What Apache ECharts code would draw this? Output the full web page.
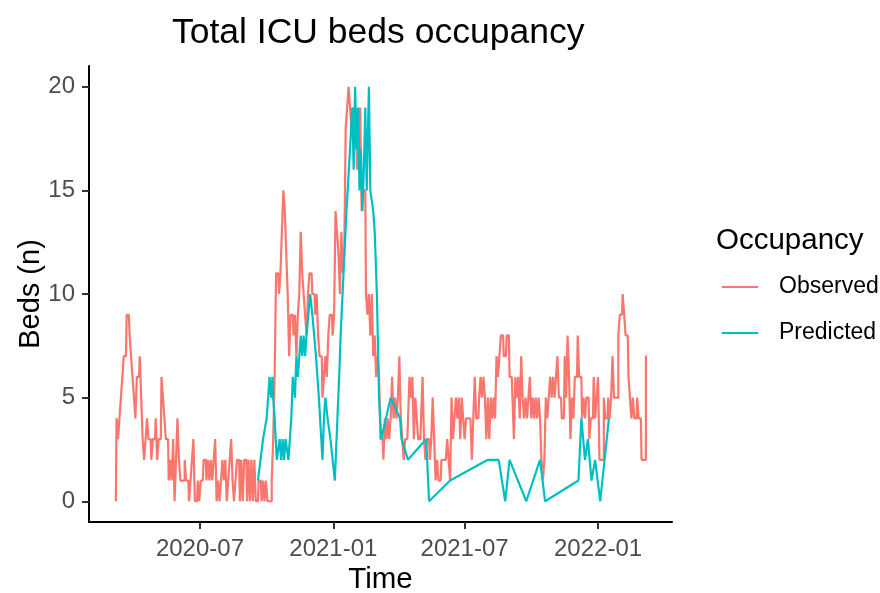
<!DOCTYPE html>
<html><head><meta charset="utf-8">
<script src="https://cdn.jsdelivr.net/npm/echarts@6/dist/echarts.min.js"></script>
<style>html,body{margin:0;padding:0;background:#fff}#c{width:880px;height:593px}</style>
</head><body><div id="c"></div>
<script>
// Observed: one reading every 2 days starting at obsStart
const obsStart = '2020-03-07';
const obsStepDays = 2;
const obsValues = [
0,4,3,4,5,6,7,7,9,9,
8,7,6,5,4,6,6,7,5,3,
2,3,4,3,3,2,3,3,4,2,
3,3,6,5,4,3,3,1,2,1,
3,0,2,4,2,1,1,1,2,1,
1,0,1,2,3,0,0,1,0,1,
1,2,2,1,2,1,2,1,2,3,
0,1,0,1,2,1,2,0,1,2,
3,1,0,1,2,2,0,2,0,2,
2,0,2,0,2,0,2,0,0,1,
1,0,1,0,1,0,0,0,1,3,
6,11,11,10,11,13,15,14,12,10,
7,9,9,8,9,7,9,10,13,11,
10,9,8,10,11,11,10,10,9,10,
8,7,7,5,6,7,6,8,9,9,
8,9,14,13,12,10,13,11,12,18,
19,20,19,18,19,17,18,16,17,19,
14,15,15,10,9,10,8,10,7,8,
6,7,6,3,3,2,4,3,4,3,
4,6,4,5,4,5,7,4,3,2,
3,3,4,6,5,6,3,5,4,3,
3,4,6,3,2,3,3,2,3,5,
3,1,2,1,1,2,2,2,2,3,
2,1,5,3,4,5,4,5,3,5,
4,3,4,4,4,4,2,4,6,4,
4,5,6,5,6,5,3,5,3,5,
4,5,4,7,6,7,8,8,7,7,
8,8,6,6,5,3,6,5,6,4,
7,5,4,5,4,5,6,4,5,4,
5,4,5,4,2,1,2,5,4,5,
6,5,6,5,6,7,5,5,4,4,
7,5,8,6,3,5,4,6,6,8,
6,6,4,5,4,5,5,3,4,4,
6,4,5,6,2,2,2,5,4,4,
5,4,5,7,5,5,5,8,9,9,
10,9,8,8,6,5,4,5,4,4,
5,4,4,2,2,2,7
];
const predDates = [
'2020-09-19','2020-09-26','2020-10-01','2020-10-03','2020-10-05','2020-10-07','2020-10-09','2020-10-10','2020-10-12','2020-10-15',
'2020-10-17','2020-10-19','2020-10-21','2020-10-23','2020-10-25','2020-10-27','2020-10-29','2020-10-31','2020-11-02','2020-11-04',
'2020-11-06','2020-11-09','2020-11-11','2020-11-13','2020-11-15','2020-11-17','2020-11-19','2020-11-21','2020-11-23','2020-11-25',
'2020-11-27','2020-11-30','2020-12-03','2020-12-08','2020-12-12','2020-12-17','2020-12-19','2020-12-21','2020-12-24','2020-12-26',
'2020-12-28','2021-01-03','2021-01-09','2021-01-11','2021-01-15','2021-01-19','2021-01-24','2021-01-27','2021-01-29','2021-01-31',
'2021-02-02','2021-02-04','2021-02-06','2021-02-08','2021-02-10','2021-02-12','2021-02-14','2021-02-16','2021-02-19','2021-02-21',
'2021-02-23','2021-02-25','2021-02-27','2021-03-02','2021-03-05','2021-03-08','2021-03-21','2021-04-03','2021-04-05','2021-04-14',
'2021-05-09','2021-05-13','2021-06-11','2021-08-02','2021-08-17','2021-08-26','2021-09-01','2021-09-24','2021-10-13','2021-10-20',
'2021-12-05','2021-12-09','2021-12-14','2021-12-18','2021-12-23','2021-12-28','2021-12-30','2022-01-04','2022-01-13','2022-01-16'
];
const predValues = [
1,3,4,5,6,5,6,5,4,2,
2,3,2,3,2,3,3,2,2,4,
6,5,7,6,7,8,7,8,7,8,
8,10,9,7,5,2,4,5,4,4,
3,1,6,8,11,14,17,19,16,20,
17,19,15,17,14,16,19,15,20,15,
15,14,13,10,5,3,5,4,3,2,
3,0,1,2,2,0,2,0,2,0,
1,4,2,3,1,2,2,0,3,4
];
const xTickDates = ['2020-07-01','2021-01-01','2021-07-01','2022-01-01'];
const yTickValues = [0,5,10,15,20];
const xRange = ['2020-01-30','2022-04-13'];
const yRange = [-1, 21];

function ts(s, addDays){
  const p = s.split('-').map(Number);
  return new Date(p[0], p[1]-1, p[2] + (addDays||0)).getTime();
}
const obsData = obsValues.map((v,i)=>[ts(obsStart, i*obsStepDays), v]);
const predData = predValues.map((v,i)=>[ts(predDates[i]), v]);
const FONT = "'Liberation Sans', Arial, sans-serif";

const chart = echarts.init(document.getElementById('c'), null, {renderer:'canvas'});
chart.setOption({
  backgroundColor:'#ffffff',
  animation:false,
  textStyle:{fontFamily:FONT},
  title:[
    {text:'Total ICU beds occupancy', left:172, top:15, padding:0,
     textStyle:{fontFamily:FONT, fontSize:35.5, fontWeight:'normal', color:'#000'}},
    {text:'Occupancy', left:716, top:226, padding:0,
     textStyle:{fontFamily:FONT, fontSize:29.5, fontWeight:'normal', color:'#000'}}
  ],
  legend:{
    orient:'vertical', left:721, top:275, padding:0,
    itemWidth:36, itemHeight:24, itemGap:22,
    itemStyle:{opacity:0},
    textStyle:{fontFamily:FONT, fontSize:23, color:'#000', padding:[0,0,0,16], lineHeight:24},
    data:['Observed','Predicted']
  },
  grid:{left:89, top:66, width:583, height:456, containLabel:false, outerBoundsMode:'none'},
  xAxis:{
    type:'value', min:ts(xRange[0]), max:ts(xRange[1]),
    name:'Time', nameLocation:'middle', nameGap:43, nameMoveOverlap:false,
    nameTextStyle:{fontFamily:FONT, fontSize:29.5, color:'#000'},
    axisLine:{show:true, onZero:false, lineStyle:{color:'#000', width:2}},
    axisTick:{show:true, length:7, lineStyle:{color:'#333', width:2}, customValues:xTickDates.map(s=>ts(s))},
    axisLabel:{show:true, fontFamily:FONT, fontSize:24, color:'#4D4D4D', margin:15,
      customValues:xTickDates.map(s=>ts(s)),
      formatter:function(v){const d=new Date(v); return d.getFullYear()+'-'+String(d.getMonth()+1).padStart(2,'0');}},
    splitLine:{show:false}
  },
  yAxis:{
    type:'value', min:yRange[0], max:yRange[1],
    name:'Beds (n)', nameLocation:'middle', nameGap:44, nameMoveOverlap:false,
    nameTextStyle:{fontFamily:FONT, fontSize:29, color:'#000'},
    axisLine:{show:true, onZero:false, lineStyle:{color:'#000', width:2}},
    axisTick:{show:true, length:7, lineStyle:{color:'#333', width:2}, customValues:yTickValues},
    axisLabel:{show:true, fontFamily:FONT, fontSize:24, color:'#4D4D4D', margin:14, customValues:yTickValues},
    splitLine:{show:false}
  },
  series:[
    {name:'Observed', type:'line', data:obsData, symbol:'none', showSymbol:false, step:'middle',
     lineStyle:{color:'#F8766D', width:2.2}, itemStyle:{color:'#F8766D'}, z:2},
    {name:'Predicted', type:'line', data:predData, symbol:'none', showSymbol:false,
     lineStyle:{color:'#00BFC4', width:2.2}, itemStyle:{color:'#00BFC4'}, z:3}
  ]
});
</script>
</body></html>
